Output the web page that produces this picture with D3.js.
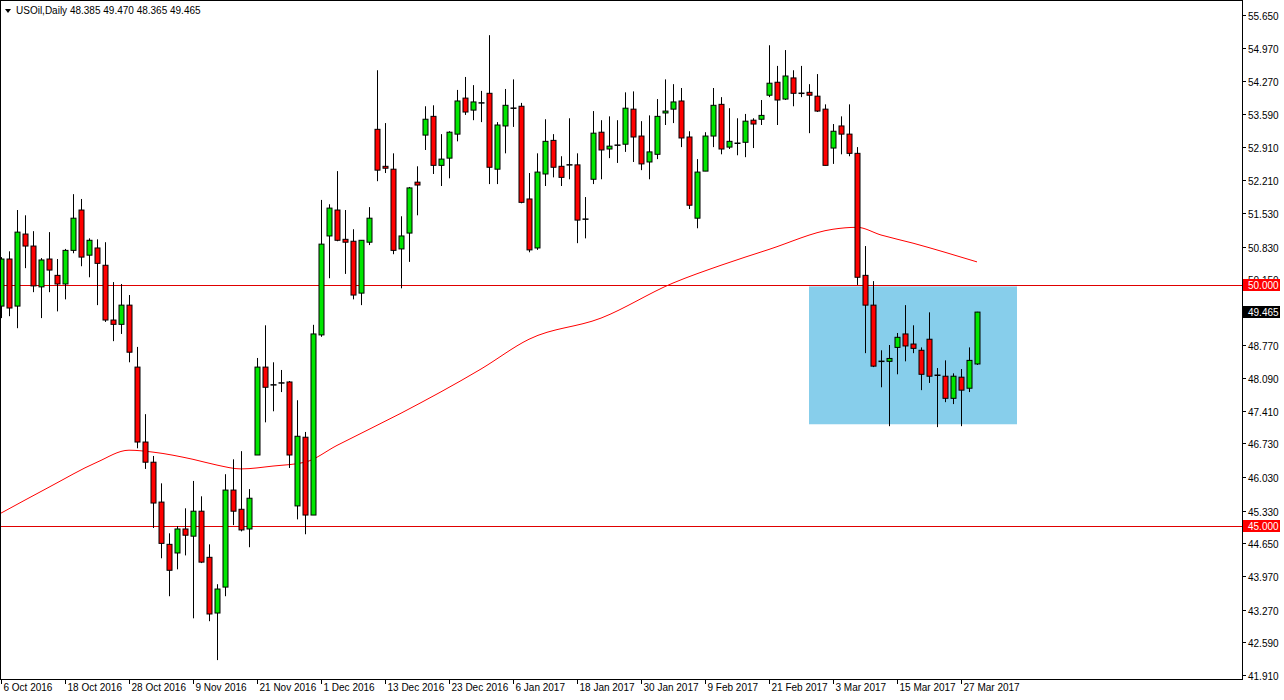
<!DOCTYPE html>
<html><head><meta charset="utf-8">
<script src="https://cdn.jsdelivr.net/npm/d3@7"></script>
<style>body{margin:0;background:#fff}svg{display:block}text{font-family:"Liberation Sans",Arial,sans-serif}</style>
</head><body><svg id="c" width="1284" height="700"></svg>
<script>
const opens  = [49.59,50.57,49.59,51.09,50.84,49.99,50.57,50.23,50.05,50.75,51.59,50.65,50.80,50.44,49.30,49.21,49.61,48.32,46.76,46.34,45.51,44.63,44.45,44.95,44.80,45.32,44.36,43.20,43.74,45.76,45.36,44.95,46.49,48.32,47.95,47.99,48.01,45.43,46.86,45.24,48.99,51.05,51.59,50.98,50.94,49.86,50.92,53.27,52.50,52.44,50.78,51.11,52.17,53.15,53.54,52.52,52.67,53.17,53.92,53.67,53.82,54.02,52.44,53.34,53.71,53.75,51.82,50.80,52.34,53.04,52.50,52.53,52.53,51.40,52.23,53.21,52.86,52.94,52.96,53.69,53.13,52.59,52.75,53.61,53.69,53.86,53.11,51.42,52.40,53.13,53.79,52.90,52.98,53.00,53.46,53.48,53.98,54.25,53.90,54.34,54.02,54.04,53.96,53.69,52.88,53.34,53.17,52.77,50.23,49.61,48.44,48.44,48.73,49.01,48.80,48.67,48.90,48.15,48.13,47.67,48.11,47.88,48.385];
const highs  = [50.61,50.73,51.59,51.48,51.15,50.59,51.13,50.57,50.78,51.92,51.82,51.00,50.98,50.92,50.09,50.05,49.82,48.74,47.34,46.47,45.90,44.86,45.01,45.38,45.95,45.63,44.63,43.80,46.09,46.40,46.57,45.78,48.51,49.19,48.42,48.26,48.03,47.63,46.97,49.20,51.80,51.71,52.40,51.59,51.19,50.96,51.65,54.50,53.40,52.77,51.46,52.07,52.50,53.75,53.77,53.17,53.23,54.09,54.36,54.19,54.07,55.23,53.42,54.11,54.31,53.82,52.36,52.77,53.48,53.17,52.71,53.50,52.77,51.86,53.65,53.46,53.54,53.46,54.04,54.06,53.44,53.56,53.90,54.31,54.21,54.13,53.23,52.65,53.21,54.13,53.94,53.71,53.50,53.59,53.50,53.88,55.02,54.59,54.92,54.50,54.59,54.21,54.42,53.79,53.38,53.54,53.79,52.90,50.84,50.11,48.67,48.78,49.03,49.61,49.19,48.73,49.46,48.30,48.46,48.19,48.28,48.73,49.470];
const lows   = [49.34,49.38,49.13,50.38,49.88,49.34,49.88,49.48,49.73,50.69,50.42,50.19,49.61,49.26,48.86,49.01,48.42,46.63,46.20,44.97,44.34,43.55,44.11,44.40,43.09,44.24,43.03,42.22,43.55,45.03,44.90,44.57,46.49,47.17,47.40,47.80,46.22,45.15,44.84,45.24,48.95,50.17,50.94,50.26,49.73,49.61,50.86,52.19,52.36,50.67,49.96,50.51,51.48,52.84,52.34,52.09,52.25,53.02,53.57,53.46,53.42,52.13,52.13,52.77,53.32,51.73,50.71,50.76,52.09,52.27,52.09,52.23,50.90,51.00,52.13,52.23,52.67,52.57,52.80,52.59,52.42,52.23,52.65,53.36,53.40,52.90,51.61,51.21,52.40,52.90,52.75,52.86,52.73,52.69,52.88,53.36,53.94,53.36,53.88,53.75,53.94,53.19,53.63,52.52,52.55,52.75,52.71,50.03,48.61,48.32,47.90,47.09,48.17,48.44,48.61,47.84,47.99,47.07,47.59,47.55,47.09,47.80,48.365];
const closes = [50.57,49.55,51.13,50.84,50.01,50.55,50.34,50.05,50.75,51.42,50.61,50.96,50.48,49.30,49.21,49.61,48.63,46.76,46.34,45.49,44.65,44.09,44.95,44.82,45.32,44.26,43.18,43.70,45.76,45.32,44.93,45.59,48.32,47.90,47.94,47.96,46.49,46.88,45.24,49.01,50.88,51.63,50.96,50.92,49.82,50.96,51.42,52.42,52.46,50.75,51.05,52.05,52.11,53.48,52.52,52.65,53.21,53.86,53.63,53.84,53.82,52.48,53.36,53.77,53.69,51.75,50.76,52.38,53.02,52.48,52.27,52.53,51.38,51.40,53.19,52.84,52.92,52.94,53.71,53.11,52.55,52.80,53.54,53.65,53.84,53.09,51.69,52.38,53.13,53.77,52.86,53.02,52.98,53.44,53.38,53.56,54.23,53.88,54.38,54.02,54.02,53.98,53.65,52.52,53.23,53.17,52.77,50.19,49.61,48.34,48.44,48.50,48.94,48.76,48.71,48.17,48.13,48.13,47.67,48.13,47.84,48.46,49.465];
const maIdx  = [0,6,12,16,19,24,27,30,34,38,42,50,60,66,75,84,90,96,104,107,110,114,118,122];
const maVal  = [45.28,45.82,46.34,46.59,46.55,46.40,46.28,46.20,46.26,46.34,46.69,47.36,48.28,48.90,49.34,50.07,50.44,50.77,51.19,51.23,51.07,50.90,50.71,50.51];
const dateLabels = ["6 Oct 2016","18 Oct 2016","28 Oct 2016","9 Nov 2016","21 Nov 2016","1 Dec 2016","13 Dec 2016","23 Dec 2016","6 Jan 2017","18 Jan 2017","30 Jan 2017","9 Feb 2017","21 Feb 2017","3 Mar 2017","15 Mar 2017","27 Mar 2017"];
const yTicks = [55.650,54.970,54.270,53.590,52.910,52.210,51.530,50.830,50.150,48.770,48.090,47.410,46.730,46.030,45.330,44.650,43.970,43.270,42.590,41.910];
const levels = [50.000,45.000];
const zoneBars = [101,127], zonePrices = [50.0,47.13];
const lastPrice = 49.465;
const title = "USOil,Daily  48.385 49.470 48.365 49.465";

const svg = d3.select("#c");
const x = d3.scaleLinear().domain([0,1]).range([1,9]);
const y = d3.scaleLinear().domain([41.91,55.65]).range([675,15]);
const R = 1242, B = 679;

svg.append("rect").attr("x",0.5).attr("y",0.5).attr("width",R).attr("height",B).attr("fill","#fff").attr("stroke","#000");
svg.append("defs").append("clipPath").attr("id","pc").append("rect").attr("x",1).attr("y",1).attr("width",R-1).attr("height",B-1);
const g = svg.append("g").attr("clip-path","url(#pc)");

g.append("rect").attr("x",x(zoneBars[0])).attr("width",x(zoneBars[1])-x(zoneBars[0]))
 .attr("y",y(zonePrices[0])).attr("height",y(zonePrices[1])-y(zonePrices[0])).attr("fill","#87ceeb");

levels.forEach(l=>g.append("line").attr("x1",0).attr("x2",R).attr("y1",Math.round(y(l))-0.5).attr("y2",Math.round(y(l))-0.5).attr("stroke","#e00000").attr("stroke-width",1));

g.append("path").datum(maIdx.map((d,i)=>[d,maVal[i]]))
 .attr("d",d3.line().x(d=>x(d[0])).y(d=>y(d[1])).curve(d3.curveMonotoneX))
 .attr("fill","none").attr("stroke","#ff0000").attr("stroke-width",1);

opens.forEach((o,i)=>{
  const c=closes[i], cx=Math.round(x(i))+0.5;
  g.append("line").attr("x1",cx).attr("x2",cx).attr("y1",y(highs[i])).attr("y2",y(lows[i])).attr("stroke","#000");
  const top=y(Math.max(o,c)), bot=y(Math.min(o,c));
  if (Math.abs(bot-top)<1.5) {
    g.append("line").attr("x1",cx-3).attr("x2",cx+3).attr("y1",top).attr("y2",top).attr("stroke","#000").attr("stroke-width",1.5);
  } else {
    g.append("rect").attr("x",cx-2.5).attr("y",top).attr("width",5).attr("height",bot-top)
     .attr("fill",c>=o?"#00e600":"#ff0000").attr("stroke","#000").attr("stroke-width",1);
  }
});

yTicks.forEach(t=>{
  const yy=Math.round(y(t))+0.5;
  svg.append("line").attr("x1",R).attr("x2",R+4).attr("y1",yy).attr("y2",yy).attr("stroke","#000");
  svg.append("text").attr("x",R+6).attr("y",yy+4).attr("font-size",10).text(t.toFixed(3));
});
levels.forEach(l=>{
  const yy=Math.round(y(l))-1;
  svg.append("rect").attr("x",R+1).attr("y",yy-6).attr("width",37).attr("height",12).attr("fill","#ff0000");
  svg.append("text").attr("x",R+6).attr("y",yy+4).attr("font-size",10).attr("fill","#fff").text(l.toFixed(3));
});
{
  const yy=Math.round(y(lastPrice));
  svg.append("rect").attr("x",R+1).attr("y",yy-6).attr("width",37).attr("height",12).attr("fill","#000");
  svg.append("text").attr("x",R+6).attr("y",yy+4).attr("font-size",10).attr("fill","#fff").text(lastPrice.toFixed(3));
}
dateLabels.forEach((d,k)=>{
  const xx=Math.round(x(k*8))+0.5;
  svg.append("line").attr("x1",xx).attr("x2",xx).attr("y1",B).attr("y2",B+5).attr("stroke","#000");
  svg.append("text").attr("x",xx+2).attr("y",B+12).attr("font-size",10).text(d);
});
svg.append("path").attr("d","M5,9 L11,9 L8,13 Z").attr("fill","#000");
svg.append("text").attr("x",16).attr("y",14).attr("font-size",10).text(title);
</script></body></html>
